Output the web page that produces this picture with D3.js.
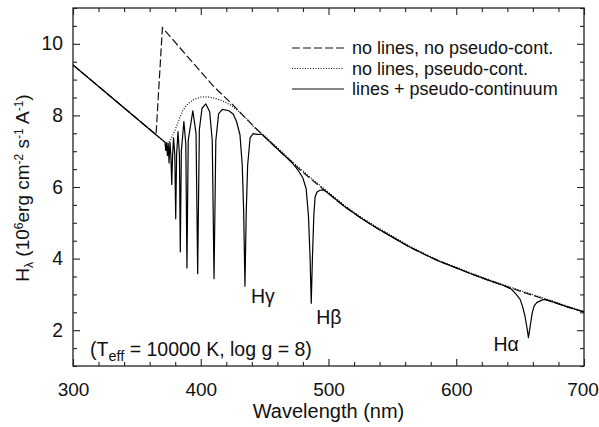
<!DOCTYPE html>
<html><head><meta charset="utf-8">
<script src="https://cdn.jsdelivr.net/npm/d3@7"></script>
<style>
body{margin:0;background:#fff;}
text{font-family:"Liberation Sans",Arial,Helvetica,sans-serif;fill:#111;}
</style></head><body>
<svg id="c" width="599" height="427"></svg>
<script>
// ---- data ----
const dashLambda = [300,365,370,390,410,425,440,450,462,475,487,500,512,525,537,550,562,575,587,600,612,625,637,650,662,675,687,700];
const dashFlux   = [9.41,7.46,10.45,9.63,8.81,8.30,7.75,7.40,7.00,6.57,6.20,5.82,5.47,5.14,4.87,4.60,4.35,4.12,3.92,3.74,3.57,3.40,3.25,3.09,2.95,2.80,2.65,2.51];

const dotLambda = [300,365,370,373,375,377,380,383,386,390,395,400,405,410,416,423,430,436,442,448,450,462,475,487,500,512,525,537,550,562,575,587,600,612,625,637,650,662,675,687,700];
const dotFlux   = [9.41,7.46,7.31,7.22,7.25,7.36,7.60,7.88,8.14,8.33,8.45,8.51,8.52,8.49,8.42,8.30,8.10,7.90,7.66,7.48,7.43,7.03,6.60,6.23,5.85,5.50,5.17,4.90,4.63,4.38,4.14,3.94,3.76,3.59,3.42,3.27,3.11,2.97,2.82,2.67,2.52];

const solidLambda = [300,365,370,372.0,372.6,373.2,373.9,374.5,375.2,375.9,376.6,377.3,378.0,378.7,379.7,380.4,381.1,382.2,383.3,384.0,384.8,386.8,388.3,389.2,390.2,393.8,396.3,397.6,398.9,401,404,407,409.0,410.4,411.8,414,417,422,425.5,428,430.7,432.5,433.6,434.6,435.6,436.7,438.6,441,444,448,450,462,471,476,480,482.5,484.3,485.6,486.5,487.4,488.5,489.5,491,493.3,496,500,512,525,537,550,562,575,587,600,612,625,637,643,647,650,652,653.8,655.6,656.5,657.7,659.5,661,663,666.9,669,675,687,700];
const solidFlux   = [9.41,7.46,7.31,7.25,7.02,7.23,6.88,7.22,6.67,7.25,6.90,6.07,6.90,7.37,6.90,5.11,6.90,7.55,6.90,4.19,7.00,7.83,7.20,3.74,7.30,8.13,7.50,3.58,7.60,8.20,8.32,8.10,7.30,3.44,7.30,8.05,8.17,8.13,8.03,7.83,7.46,6.60,5.30,3.23,5.30,6.60,7.37,7.49,7.47,7.47,7.40,7.00,6.70,6.48,6.25,5.95,5.20,4.00,2.75,4.00,5.20,5.72,5.86,5.91,5.92,5.82,5.47,5.14,4.87,4.60,4.35,4.12,3.92,3.74,3.57,3.40,3.25,3.15,3.00,2.86,2.65,2.39,2.02,1.79,2.07,2.49,2.68,2.77,2.84,2.86,2.80,2.65,2.51];

const xMajor = [300,400,500,600,700];
const yMajor = [2,4,6,8,10];
const legendLabels = ["no lines, no pseudo-cont.","no lines, pseudo-cont.","lines + pseudo-continuum"];
const lineLabels = [{t:"H",g:"γ",lam:434.6,v:2.75,dx:6},{t:"H",g:"β",lam:486.5,v:2.18,dx:5},{t:"H",g:"α",lam:656.5,v:1.42,dx:-35}];

// ---- chart ----
const svg = d3.select("#c");
const L=73,R=584,T=8,B=366;
const x = d3.scaleLinear().domain([300,700]).range([L,R]);
const y = d3.scaleLinear().domain([1,11]).range([B,T]);

const xMinor = d3.range(300,701,20).filter(d=>d%100!==0);
const yMinor = d3.range(1,11.01,0.5).filter(d=>d%2!==0);

const ink="#222";
function styleAxis(g){g.select(".domain").remove();g.selectAll("line").attr("stroke",ink).attr("stroke-width",1.1);}

// bottom
svg.append("g").attr("transform",`translate(0,${B})`)
  .call(d3.axisBottom(x).tickValues(xMajor).tickSize(-7).tickPadding(16.5).tickFormat(d3.format("d")))
  .call(styleAxis).call(g=>g.selectAll("text").attr("font-size",19).attr("fill","#111").attr("font-family","Liberation Sans, Arial")
    .attr("dx",d=>d===700?-1.5:0));
svg.append("g").attr("transform",`translate(0,${B})`)
  .call(d3.axisBottom(x).tickValues(xMinor).tickSize(-4).tickFormat(""))
  .call(styleAxis);
// top
svg.append("g").attr("transform",`translate(0,${T})`)
  .call(d3.axisTop(x).tickValues(xMajor).tickSize(-7).tickFormat(""))
  .call(styleAxis);
svg.append("g").attr("transform",`translate(0,${T})`)
  .call(d3.axisTop(x).tickValues(xMinor).tickSize(-4).tickFormat(""))
  .call(styleAxis);
// left
svg.append("g").attr("transform",`translate(${L},0)`)
  .call(d3.axisLeft(y).tickValues(yMajor).tickSize(-7).tickPadding(10).tickFormat(d3.format("d")))
  .call(styleAxis).call(g=>g.selectAll("text").attr("font-size",19.3).attr("fill","#111").attr("font-family","Liberation Sans, Arial"));
svg.append("g").attr("transform",`translate(${L},0)`)
  .call(d3.axisLeft(y).tickValues(yMinor).tickSize(-4).tickFormat(""))
  .call(styleAxis);
// right
svg.append("g").attr("transform",`translate(${R},0)`)
  .call(d3.axisRight(y).tickValues(yMajor).tickSize(-7).tickFormat(""))
  .call(styleAxis);
svg.append("g").attr("transform",`translate(${R},0)`)
  .call(d3.axisRight(y).tickValues(yMinor).tickSize(-4).tickFormat(""))
  .call(styleAxis);

// frame
svg.append("rect").attr("x",L).attr("y",T).attr("width",R-L).attr("height",B-T)
  .attr("fill","none").attr("stroke",ink).attr("stroke-width",1.3);

// clip
svg.append("clipPath").attr("id","clip").append("rect").attr("x",L).attr("y",T).attr("width",R-L).attr("height",B-T);

const line = d3.line().x(d=>x(d[0])).y(d=>y(d[1]));
const plot = svg.append("g").attr("clip-path","url(#clip)");
plot.append("path").datum(d3.zip(dotLambda,dotFlux)).attr("d",line)
  .attr("fill","none").attr("stroke","#111").attr("stroke-width",1.2).attr("stroke-dasharray","1,1.6");
plot.append("path").datum(d3.zip(dashLambda,dashFlux)).attr("d",line)
  .attr("fill","none").attr("stroke","#111").attr("stroke-width",1.2).attr("stroke-dasharray","8,3");
plot.append("path").datum(d3.zip(solidLambda,solidFlux)).attr("d",line)
  .attr("fill","none").attr("stroke","#000").attr("stroke-width",1.2).attr("stroke-linejoin","round");

// legend
const legY=[48,68.5,89];
const legDash=["8,3","1,1.6",null];
legendLabels.forEach((t,i)=>{
  const l=svg.append("line").attr("x1",292).attr("x2",344).attr("y1",legY[i]).attr("y2",legY[i])
    .attr("stroke","#111").attr("stroke-width",1.2);
  if(legDash[i]) l.attr("stroke-dasharray",legDash[i]);
  svg.append("text").attr("x",352).attr("y",legY[i]+6).attr("font-size",18).text(t);
});

// line labels
lineLabels.forEach(d=>{
  const t=svg.append("text").attr("x",x(d.lam)+d.dx).attr("y",y(d.v)).attr("font-size",19.5);
  t.append("tspan").text(d.t);
  t.append("tspan").text(d.g);
});

// annotation
const ann=svg.append("text").attr("x",90).attr("y",356).attr("font-size",19.5);
ann.append("tspan").text("(T");
ann.append("tspan").attr("font-size",14.5).attr("dy",5).text("eff");
ann.append("tspan").attr("dy",-5).text(" = 10000 K, log g = 8)");

// axis titles
svg.append("text").attr("x",(L+R)/2).attr("y",418).attr("text-anchor","middle").attr("font-size",20).text("Wavelength (nm)");

const yt=svg.append("text").attr("transform","translate(29,188) rotate(-90)").attr("text-anchor","middle").attr("font-size",19);
yt.append("tspan").text("H");
yt.append("tspan").attr("font-size",12).attr("dy",4).text("λ");
yt.append("tspan").attr("dy",-4).text(" (10");
yt.append("tspan").attr("font-size",12).attr("dy",-6).text("6");
yt.append("tspan").attr("dy",6).text("erg cm");
yt.append("tspan").attr("font-size",12).attr("dy",-6).text("-2");
yt.append("tspan").attr("dy",6).text(" s");
yt.append("tspan").attr("font-size",12).attr("dy",-6).text("-1");
yt.append("tspan").attr("dy",6).text(" A");
yt.append("tspan").attr("font-size",12).attr("dy",-6).text("-1");
yt.append("tspan").attr("dy",6).text(")");
</script></body></html>
